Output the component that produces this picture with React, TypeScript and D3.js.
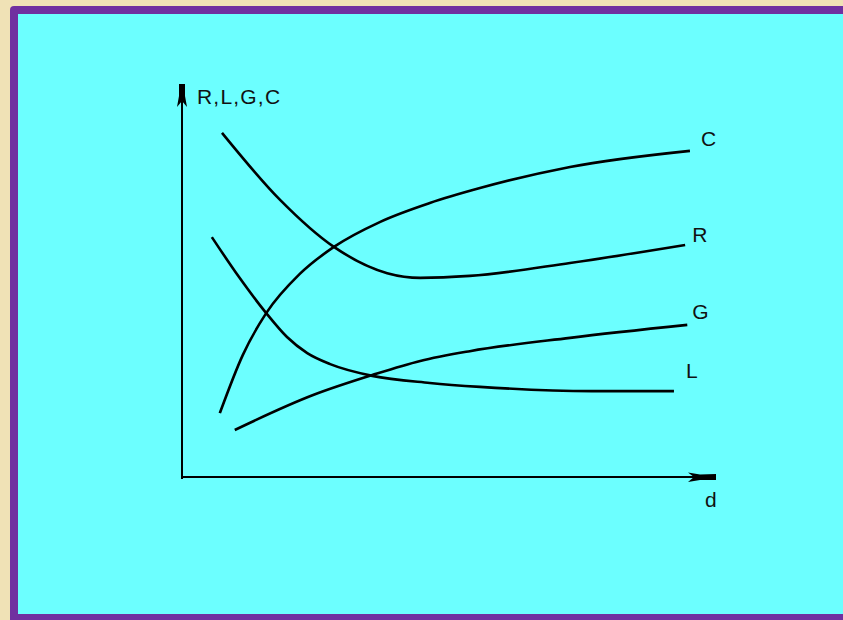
import React from "react";
import * as d3 from "d3";

// d (x) positions and values (y) for each curve
const seriesNames = ["C", "R", "G", "L"];
const cX = [7.1, 11.4, 15.8, 22.1, 28.5, 37.2, 46.5, 55.9, 72.8, 95.3];
const cY = [16.3, 31.1, 41.8, 51.8, 58.7, 65.1, 69.9, 73.7, 79.1, 83.2];
const rX = [7.5, 18.4, 28.5, 38.5, 44.7, 54.0, 72.8, 94.4];
const rY = [87.8, 70.7, 58.7, 52.0, 50.8, 51.3, 54.6, 59.2];
const gX = [9.9, 24.6, 35.7, 44.7, 54.0, 72.8, 94.8];
const gY = [12.0, 20.9, 26.0, 29.6, 32.1, 35.5, 38.8];
const lX = [5.6, 10.7, 15.8, 19.7, 23.5, 27.8, 35.7, 46.5, 55.9, 76.9, 92.3];
const lY = [61.2, 51.0, 41.8, 35.7, 31.6, 28.8, 25.8, 24.0, 23.0, 21.9, 21.9];
const yAxisLabel = "R,L,G,C";
const xAxisLabel = "d";

const W = 843;
const H = 620;

export default function App() {
  const x = d3.scaleLinear().domain([0, 100]).range([182, 715]);
  const y = d3.scaleLinear().domain([0, 100]).range([477, 85]);
  const line = d3
    .line<[number, number]>()
    .x((p) => x(p[0]))
    .y((p) => y(p[1]))
    .curve(d3.curveMonotoneX);

  const series = [
    { name: seriesNames[0], xs: cX, ys: cY, dx: 11, dy: -5 },
    { name: seriesNames[1], xs: rX, ys: rY, dx: 7, dy: -3 },
    { name: seriesNames[2], xs: gX, ys: gY, dx: 5, dy: -6 },
    { name: seriesNames[3], xs: lX, ys: lY, dx: 12, dy: -13 },
  ];

  const x0 = x(0);
  const y0 = y(0);
  const xEnd = x(100);
  const yEnd = y(100);
  const font = "'Liberation Sans', Arial, sans-serif";

  return (
    <svg
      width={W}
      height={H}
      viewBox={`0 0 ${W} ${H}`}
      style={{ position: "absolute", left: 0, top: 0, display: "block" }}
    >
      <rect x={0} y={0} width={W} height={H} fill="#f0e2b6" />
      <rect x={10} y={6} width={W + 20} height={H + 20} rx={4} fill="#7030a0" />
      <rect x={18} y={14} width={W} height={600} fill="#6cffff" />

      {/* axes */}
      <line x1={x0} y1={y0 + 2} x2={x0} y2={yEnd + 8} stroke="#000" strokeWidth={2} />
      <line x1={x0 - 1} y1={y0} x2={xEnd - 20} y2={y0} stroke="#000" strokeWidth={2} />
      <polygon
        points={[
          [x0 - 3, yEnd - 1],
          [x0 + 3, yEnd - 1],
          [x0 + 3, yEnd + 11],
          [x0 + 5, yEnd + 22],
          [x0, yEnd + 16],
          [x0 - 5, yEnd + 22],
          [x0 - 3, yEnd + 11],
        ]
          .map((p) => p.join(","))
          .join(" ")}
        fill="#000"
      />
      <polygon
        points={[
          [xEnd + 1, y0 - 3],
          [xEnd + 1, y0 + 3],
          [xEnd - 15, y0 + 3],
          [xEnd - 27, y0 + 5],
          [xEnd - 21, y0],
          [xEnd - 27, y0 - 4.5],
          [xEnd - 15, y0 - 2.5],
        ]
          .map((p) => p.join(","))
          .join(" ")}
        fill="#000"
      />
      <text x={x0 + 15} y={yEnd + 19} fontFamily={font} fontSize={21} letterSpacing={1.2} fill="#111">
        {yAxisLabel}
      </text>
      <text x={xEnd - 10} y={y0 + 30} fontFamily={font} fontSize={21} fill="#111">
        {xAxisLabel}
      </text>

      {/* curves */}
      {series.map((s) => {
        const pts = s.xs.map((v, i) => [v, s.ys[i]] as [number, number]);
        const last = pts[pts.length - 1];
        return (
          <g key={s.name}>
            <path d={line(pts) || ""} fill="none" stroke="#000" strokeWidth={2.6} strokeLinecap="butt" />
            <text
              x={x(last[0]) + s.dx}
              y={y(last[1]) + s.dy}
              fontFamily={font}
              fontSize={21}
              fill="#111"
            >
              {s.name}
            </text>
          </g>
        );
      })}
    </svg>
  );
}
